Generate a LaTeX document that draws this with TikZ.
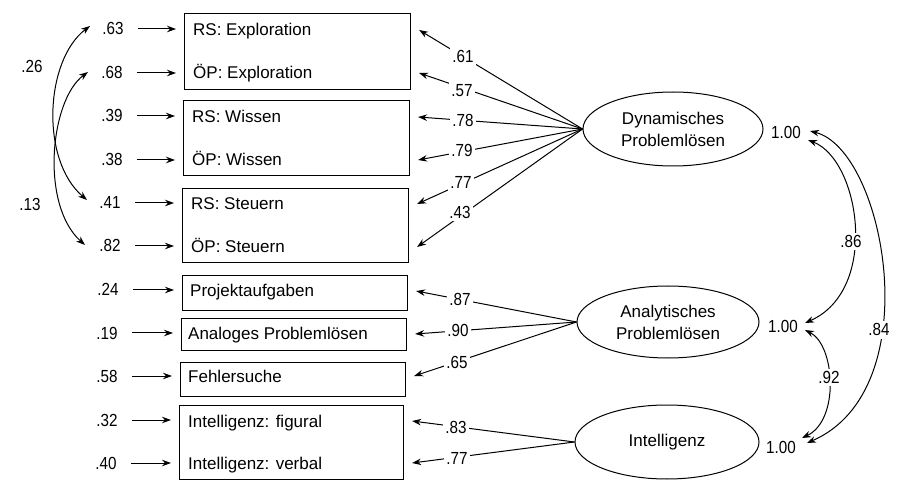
\documentclass[tikz,border=0pt]{standalone}
\usepackage{fontspec}
\setmainfont{Liberation Sans}
\newfontfamily\numfont[FakeStretch=0.87]{Liberation Sans}
\usetikzlibrary{arrows.meta,shapes.geometric,calc}
\begin{document}
\begin{tikzpicture}[x=1pt,y=-1pt,
  txt/.style={anchor=west, inner sep=0pt, text height=12pt, text depth=0pt, font=\fontsize{17}{22}\selectfont},
  num/.style={inner sep=0pt, text height=12pt, text depth=0pt, font=\fontsize{17.5}{22}\selectfont\numfont},
  lbl/.style={num, fill=white, inner sep=2.5pt},
  box/.style={draw, line width=1.1pt, inner sep=0pt, anchor=north west},
  arr/.style={-{Stealth[length=9pt,width=6.5pt]}, line width=1pt},
  dbl/.style={{Stealth[length=9pt,width=6.5pt]}-{Stealth[length=9pt,width=6.5pt]}, line width=1pt},
  lat/.style={ellipse, draw, line width=1pt, inner sep=0pt, align=center, font=\fontsize{17}{22}\selectfont},
]
\useasboundingbox (0,0) rectangle (903,481);

% indicator boxes
\node[box, minimum width=226pt, minimum height=76pt] (b1) at (184,13) {};
\node[box, minimum width=226pt, minimum height=75pt] (b2) at (183,100) {};
\node[box, minimum width=226pt, minimum height=74pt] (b3) at (182,188) {};
\node[box, minimum width=225pt, minimum height=35pt] (b4) at (182,275) {};
\node[box, minimum width=225pt, minimum height=32pt] (b5) at (181,318) {};
\node[box, minimum width=225pt, minimum height=34pt] (b6) at (180,362) {};
\node[box, minimum width=224pt, minimum height=74pt] (b7) at (179,405) {};

% indicator texts
\node[txt] (r1) at (193,30) {RS: Exploration};
\node[txt] (r2) at (193,73) {ÖP: Exploration};
\node[txt] (r3) at (192,117) {RS: Wissen};
\node[txt] (r4) at (192,160) {ÖP: Wissen};
\node[txt] (r5) at (191,204) {RS: Steuern};
\node[txt] (r6) at (191,247) {ÖP: Steuern};
\node[txt] (r7) at (190,291) {Projektaufgaben};
\node[txt] (r8) at (188,334) {Analoges Problemlösen};
\node[txt] (r9) at (188,376) {Fehlersuche};
\node[txt] (r10) at (188,421) {Intelligenz: figural};
\node[txt] (r11) at (188,463) {Intelligenz: verbal};

% error variances
\node[num] (e1) at (113,29) {.63};
\node[num] (e2) at (112,73) {.68};
\node[num] (e3) at (112,116) {.39};
\node[num] (e4) at (112,160) {.38};
\node[num] (e5) at (110,203) {.41};
\node[num] (e6) at (110,246) {.82};
\node[num] (e7) at (108,290) {.24};
\node[num] (e8) at (107,333) {.19};
\node[num] (e9) at (107,376) {.58};
\node[num] (e10) at (107,420) {.32};
\node[num] (e11) at (106,463) {.40};

\draw[arr, shorten <=14pt, shorten >=8pt] (e1.east) -- (e1 -| b1.west);
\draw[arr, shorten <=14pt, shorten >=8pt] (e2.east) -- (e2 -| b1.west);
\draw[arr, shorten <=14pt, shorten >=8pt] (e3.east) -- (e3 -| b2.west);
\draw[arr, shorten <=14pt, shorten >=8pt] (e4.east) -- (e4 -| b2.west);
\draw[arr, shorten <=14pt, shorten >=8pt] (e5.east) -- (e5 -| b3.west);
\draw[arr, shorten <=14pt, shorten >=8pt] (e6.east) -- (e6 -| b3.west);
\draw[arr, shorten <=14pt, shorten >=8pt] (e7.east) -- (e7 -| b4.west);
\draw[arr, shorten <=14pt, shorten >=8pt] (e8.east) -- (e8 -| b5.west);
\draw[arr, shorten <=14pt, shorten >=8pt] (e9.east) -- (e9 -| b6.west);
\draw[arr, shorten <=14pt, shorten >=8pt] (e10.east) -- (e10 -| b7.west);
\draw[arr, shorten <=14pt, shorten >=8pt] (e11.east) -- (e11 -| b7.west);

% error covariances
\coordinate (ca1) at (90,26);
\coordinate (ca2) at (87,200);
\coordinate (cb1) at (88,72);
\coordinate (cb2) at (85,245);
\draw[dbl] (ca1) .. controls (45,60) and (40,160) .. (ca2);
\draw[dbl] (cb1) .. controls (50,100) and (40,205) .. (cb2);
\node[num] (k26) at (32,67) {.26};
\node[num] (k13) at (30,205) {.13};

% latent variables
\node[lat, minimum width=180pt, minimum height=74pt] (dyn) at (673,129) {Dynamisches\\Problemlösen};
\node[lat, minimum width=182pt, minimum height=72pt] (ana) at (668,322) {Analytisches\\Problemlösen};
\node[lat, minimum width=184pt, minimum height=74pt] (int) at (667,442) {Intelligenz};

\node[num] (v1) at (786,133) {1.00};
\node[num] (v2) at (783,327) {1.00};
\node[num] (v3) at (781,447) {1.00};

% loadings
\draw[arr] (dyn.west) -- ($(b1.east |- r1.west)+(8,0)$);
\draw[arr] (dyn.west) -- ($(b1.east |- r2.west)+(8,0)$);
\draw[arr] (dyn.west) -- ($(b2.east |- r3.west)+(8,0)$);
\draw[arr] (dyn.west) -- ($(b2.east |- r4.west)+(8,0)$);
\draw[arr] (dyn.west) -- ($(b3.east |- r5.west)+(8,0)$);
\draw[arr] (dyn.west) -- ($(b3.east |- r6.west)+(8,0)$);
\draw[arr] (ana.west) -- ($(b4.east |- r7.west)+(8,0)$);
\draw[arr] (ana.west) -- ($(b5.east |- r8.west)+(8,0)$);
\draw[arr] (ana.west) -- ($(b6.east |- r9.west)+(8,0)$);
\draw[arr] (int.west) -- ($(b7.east |- r10.west)+(8,0)$);
\draw[arr] (int.west) -- ($(b7.east |- r11.west)+(8,0)$);

\node[lbl] (l1) at (463,57) {.61};
\node[lbl] (l2) at (462,91) {.57};
\node[lbl] (l3) at (463,121) {.78};
\node[lbl] (l4) at (462,151) {.79};
\node[lbl] (l5) at (461,183) {.77};
\node[lbl] (l6) at (460,213) {.43};
\node[lbl] (l7) at (460,300) {.87};
\node[lbl] (l8) at (458,331) {.90};
\node[lbl] (l9) at (457,362) {.65};
\node[lbl] (l10) at (456,427) {.83};
\node[lbl] (l11) at (457,458) {.77};

% latent correlations
\coordinate (d84a) at (810,131);
\coordinate (d84b) at (807,443);
\coordinate (d86a) at (808,140);
\coordinate (d86b) at (805,323);
\coordinate (d92a) at (805,330);
\coordinate (d92b) at (802,438);
\draw[dbl] (d84a) .. controls (885,150) and (930,390) .. (d84b);
\draw[dbl] (d86a) .. controls (860,160) and (880,290) .. (d86b);
\draw[dbl] (d92a) .. controls (835,345) and (840,420) .. (d92b);
\node[lbl] (m86) at (851,242) {.86};
\node[lbl] (m84) at (879,330) {.84};
\node[lbl] (m92) at (829,377) {.92};
\end{tikzpicture}
\end{document}
